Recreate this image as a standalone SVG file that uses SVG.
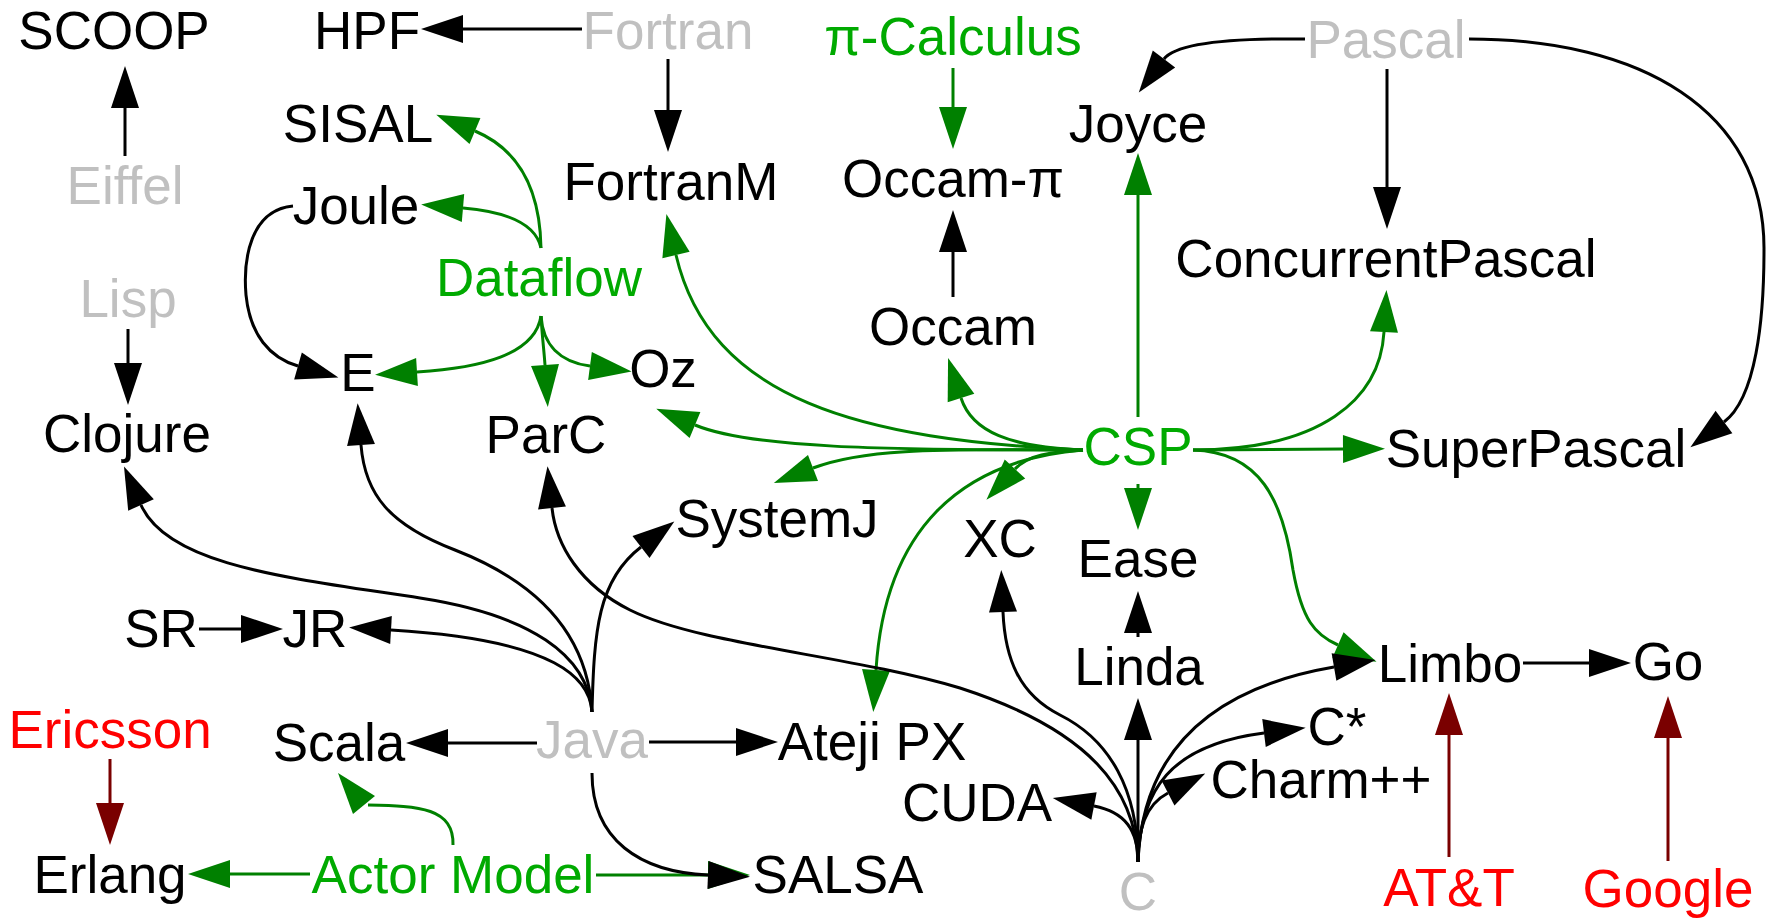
<svg xmlns="http://www.w3.org/2000/svg" width="1775" height="919" viewBox="0 0 1775 919">
<defs>
<style>
text{font-family:"Liberation Sans",Arial,sans-serif;font-size:53px;text-anchor:middle;fill:#000}
.g{fill:#c0c0c0}.gr{fill:#00aa00}.r{fill:#ff0000}
.e{fill:none;stroke-width:3}
.k{stroke:#000;marker-end:url(#ab)}
.n{stroke:#008000;marker-end:url(#ag)}
.m{stroke:#7a0000;marker-end:url(#ar)}
</style>
<marker id="ab" markerUnits="userSpaceOnUse" viewBox="0 -15 44 30" markerWidth="44" markerHeight="30" refX="0" refY="0" orient="auto" overflow="visible"><path d="M0,-14L42,0L0,14z" fill="#000"/></marker>
<marker id="ag" markerUnits="userSpaceOnUse" viewBox="0 -15 44 30" markerWidth="44" markerHeight="30" refX="0" refY="0" orient="auto" overflow="visible"><path d="M0,-14L42,0L0,14z" fill="#008000"/></marker>
<marker id="ar" markerUnits="userSpaceOnUse" viewBox="0 -15 44 30" markerWidth="44" markerHeight="30" refX="0" refY="0" orient="auto" overflow="visible"><path d="M0,-14L42,0L0,14z" fill="#7a0000"/></marker>
</defs>
<rect width="1775" height="919" fill="#fff"/>
<g id="connectors">
<!-- green -->
<path class="e n" d="M953,68L953,107"/>
<path class="e n" d="M541,248C540,190 520,150 475,131"/>
<path class="e n" d="M541,248C536,225 510,212 463,208"/>
<path class="e n" d="M541,316C535,355 480,368 417,372"/>
<path class="e n" d="M541,316C542,335 544,350 545,365"/>
<path class="e n" d="M541,316C543,345 560,362 590,366"/>
<path class="e n" d="M1083,450C860,440 710,400 676,255"/>
<path class="e n" d="M1083,450C880,450 750,448 695,425"/>
<path class="e n" d="M1083,450C1010,447 972,432 961,398"/>
<path class="e n" d="M1083,450C960,450 870,446 813,468"/>
<path class="e n" d="M1083,450C1050,452 1028,455 1015,469"/>
<path class="e n" d="M1083,450C960,460 885,530 876,670"/>
<path class="e n" d="M1138,484L1138,488"/>
<path class="e n" d="M1138,417L1138,195"/>
<path class="e n" d="M1193,450C1320,450 1380,400 1384,332"/>
<path class="e n" d="M1193,450L1343,449"/>
<path class="e n" d="M1193,450C1260,452 1283,500 1293,570C1302,620 1315,635 1338,645"/>
<path class="e n" d="M310,874L230,874"/>
<path class="e" stroke="#008000" d="M453,845C454,808 420,806 368,805"/>
<polygon points="338,773 353,814 375,796" fill="#008000"/>
<path class="e n" d="M596,875L708,875"/>
<!-- black -->
<path class="e k" d="M582,29L463,29"/>
<path class="e k" d="M668,59L668,110"/>
<path class="e k" d="M125,156L125,108"/>
<path class="e k" d="M128,329L128,363"/>
<path class="e k" d="M953,297L953,252"/>
<path class="e k" d="M1305,39C1230,38 1176,43 1164,59"/>
<path class="e k" d="M1387,69L1387,187"/>
<path class="e k" d="M1469,39C1640,39 1765,110 1764,250C1764,320 1756,398 1724,422"/>
<path class="e k" d="M293,206C250,210 243,260 246,295C250,335 270,358 298,366"/>
<path class="e k" d="M592,712C588,655 530,615 420,598C290,578 168,566 141,505"/>
<path class="e k" d="M592,712C588,640 545,585 455,550C390,525 365,495 361,445"/>
<path class="e k" d="M592,712C590,680 560,640 391,630"/>
<path class="e k" d="M592,712C594,630 598,580 641,547"/>
<path class="e k" d="M537,743L448,743"/>
<path class="e k" d="M649,742L736,742"/>
<path class="e k" d="M592,773C592,840 640,872 708,875"/>
<path class="e k" d="M199,629L241,629"/>
<path class="e k" d="M1523,663L1589,663"/>
<path class="e k" d="M1138,862L1138,740"/>
<path class="e k" d="M1138,637L1138,633"/>
<path class="e k" d="M1138,862C1138,790 1110,740 1060,715C1020,695 1005,660 1003,612"/>
<path class="e k" d="M1138,862C1136,790 1090,730 960,688C850,655 700,645 630,610C580,585 556,545 552,508"/>
<path class="e k" d="M1138,862C1138,830 1125,812 1094,806"/>
<path class="e k" d="M1138,862C1138,830 1145,805 1168,793"/>
<path class="e k" d="M1138,862C1140,790 1170,745 1264,733"/>
<path class="e k" d="M1138,862C1142,760 1200,690 1334,667"/>
<!-- dark red -->
<path class="e m" d="M110,759L110,803"/>
<path class="e m" d="M1449,857L1449,735"/>
<path class="e m" d="M1668,861L1668,738"/>
</g>
<g id="SCOOP"><text x="114" y="49">SCOOP</text></g>
<g id="HPF"><text x="367" y="49">HPF</text></g>
<g id="Fortran"><text class="g" x="668" y="49">Fortran</text></g>
<g id="PiCalculus"><text class="gr" x="953" y="55">π-Calculus</text></g>
<g id="Pascal"><text class="g" x="1386" y="58">Pascal</text></g>
<g id="SISAL"><text x="358" y="142">SISAL</text></g>
<g id="Joyce"><text x="1138" y="142">Joyce</text></g>
<g id="Eiffel"><text class="g" x="125" y="204">Eiffel</text></g>
<g id="Joule"><text x="356" y="224">Joule</text></g>
<g id="FortranM"><text x="671" y="200">FortranM</text></g>
<g id="OccamPi"><text x="953" y="197">Occam-π</text></g>
<g id="ConcurrentPascal"><text x="1386" y="277">ConcurrentPascal</text></g>
<g id="Dataflow"><text class="gr" x="539" y="296">Dataflow</text></g>
<g id="Lisp"><text class="g" x="128" y="317">Lisp</text></g>
<g id="Occam"><text x="953" y="345">Occam</text></g>
<g id="E"><text x="358" y="391">E</text></g>
<g id="Oz"><text x="663" y="387">Oz</text></g>
<g id="Clojure"><text x="127" y="452">Clojure</text></g>
<g id="ParC"><text x="546" y="453">ParC</text></g>
<g id="CSP"><text class="gr" x="1138" y="465">CSP</text></g>
<g id="SuperPascal"><text x="1536" y="467">SuperPascal</text></g>
<g id="SystemJ"><text x="777" y="537">SystemJ</text></g>
<g id="XC"><text x="1000" y="557">XC</text></g>
<g id="Ease"><text x="1138" y="577">Ease</text></g>
<g id="SR"><text x="161" y="647">SR</text></g>
<g id="JR"><text x="315" y="647">JR</text></g>
<g id="Linda"><text x="1139" y="685">Linda</text></g>
<g id="Limbo"><text x="1450" y="682">Limbo</text></g>
<g id="Go"><text x="1668" y="680">Go</text></g>
<g id="Ericsson"><text class="r" x="110" y="748">Ericsson</text></g>
<g id="Scala"><text x="339" y="761">Scala</text></g>
<g id="Java"><text class="g" x="592" y="758">Java</text></g>
<g id="AtejiPX"><text x="872" y="760">Ateji PX</text></g>
<g id="Cstar"><text x="1337" y="745">C*</text></g>
<g id="CUDA"><text x="977" y="821">CUDA</text></g>
<g id="Charm"><text x="1321" y="798">Charm++</text></g>
<g id="Erlang"><text x="110" y="893">Erlang</text></g>
<g id="ActorModel"><text class="gr" x="453" y="893">Actor Model</text></g>
<g id="SALSA"><text x="838" y="893">SALSA</text></g>
<g id="C"><text class="g" x="1138" y="910">C</text></g>
<g id="ATT"><text class="r" x="1449" y="906">AT&amp;T</text></g>
<g id="Google"><text class="r" x="1668" y="907">Google</text></g>
</svg>
